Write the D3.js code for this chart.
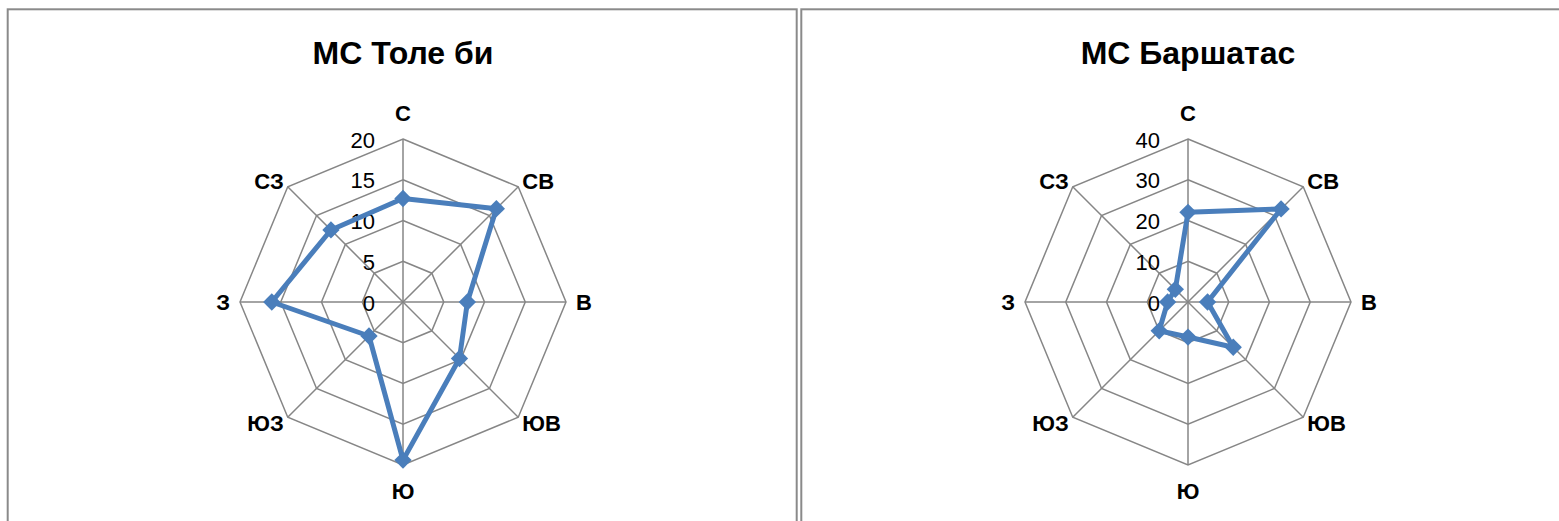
<!DOCTYPE html>
<html lang="ru">
<head>
  <meta charset="UTF-8">
  <title>Роза ветров</title>
  <script src="https://d3js.org/d3.v7.min.js"></script>
  <style>
    body { margin: 0; padding: 0; background: #fff; }
    svg { display: block; font-family: "Liberation Sans", Arial, sans-serif; }
    .title { font-weight: bold; font-size: 32px; }
    .cat { font-weight: bold; font-size: 22px; }
    .tick { font-size: 22px; }
  </style>
</head>
<body>
  <div id="chart"></div>

  <script>
    // wind directions and values per station
    const directions = ["С", "СВ", "В", "ЮВ", "Ю", "ЮЗ", "З", "СЗ"];
    const toleBi = [12.7, 16.2, 7.9, 9.8, 19.4, 5.9, 16.1, 12.5];
    const barshatas = [22.0, 32.3, 4.8, 15.7, 8.6, 10.0, 5.0, 4.4];
    const toleBiTicks = [0, 5, 10, 15, 20];
    const barshatasTicks = [0, 10, 20, 30, 40];

    const width = 1559;
    const height = 521;
    const radius = 163;
    const color = "#4A7EBB";
    const gridColor = "#868686";

    const svg = d3.select("#chart")
      .append("svg")
      .attr("width", width)
      .attr("height", height);

    svg.append("rect")
      .attr("width", width)
      .attr("height", height)
      .attr("fill", "#fff");

    // panel borders (bottom and far right run off the picture)
    const panels = [
      { x0: 7.7, x1: 796.7 },
      { x0: 801.3, x1: 1575 }
    ];
    panels.forEach(p => {
      svg.append("rect")
        .attr("x", p.x0)
        .attr("y", 9.3)
        .attr("width", p.x1 - p.x0)
        .attr("height", height + 20)
        .attr("fill", "none")
        .attr("stroke", "#8a8a8a")
        .attr("stroke-width", 2);
    });

    function drawRadar(cx, cy, title, values, ticks) {
      const g = svg.append("g").attr("transform", `translate(${cx},${cy})`);
      const angle = i => i * 2 * Math.PI / directions.length;

      const r = d3.scaleLinear()
        .domain([0, d3.max(ticks)])
        .range([0, radius]);

      // title
      svg.append("text")
        .attr("class", "title")
        .attr("x", cx)
        .attr("y", 64)
        .attr("text-anchor", "middle")
        .text(title);

      // rings
      const ring = d3.lineRadial()
        .angle((d, i) => angle(i))
        .radius(d => d)
        .curve(d3.curveLinearClosed);

      ticks.slice(1).forEach(t => {
        g.append("path")
          .attr("d", ring(directions.map(() => r(t))))
          .attr("fill", "none")
          .attr("stroke", gridColor)
          .attr("stroke-width", 1.5);
      });

      // spokes
      directions.forEach((d, i) => {
        const a = angle(i);
        g.append("line")
          .attr("x1", 0).attr("y1", 0)
          .attr("x2", Math.sin(a) * radius)
          .attr("y2", -Math.cos(a) * radius)
          .attr("stroke", gridColor)
          .attr("stroke-width", 1.5);
      });

      // tick labels
      g.selectAll(".tick")
        .data(ticks)
        .enter()
        .append("text")
        .attr("class", "tick")
        .attr("x", -28)
        .attr("y", d => -r(d) + 1)
        .attr("text-anchor", "end")
        .attr("dominant-baseline", "central")
        .text(d => d);

      // category labels
      directions.forEach((d, i) => {
        const a = angle(i);
        const s = Math.sin(a), c = Math.cos(a);
        let x, y, anchor;
        if (Math.abs(s) < 0.01) {
          x = 0; y = -c * (radius + 26); anchor = "middle";
        } else if (Math.abs(c) < 0.01) {
          x = s * (radius + 10); y = 0; anchor = s > 0 ? "start" : "end";
        } else {
          x = s * radius + (s > 0 ? 4 : -4);
          y = -c * radius + (c > 0 ? -5 : 6);
          anchor = s > 0 ? "start" : "end";
        }
        g.append("text")
          .attr("class", "cat")
          .attr("x", x)
          .attr("y", y)
          .attr("text-anchor", anchor)
          .attr("dominant-baseline", "central")
          .text(d);
      });

      // series
      const line = d3.lineRadial()
        .angle((d, i) => angle(i))
        .radius(d => r(d))
        .curve(d3.curveLinearClosed);

      g.append("path")
        .attr("d", line(values))
        .attr("fill", "none")
        .attr("stroke", color)
        .attr("stroke-width", 5)
        .attr("stroke-linejoin", "round");

      const diamond = d3.symbol().type(d3.symbolSquare).size(150);
      g.selectAll(".marker")
        .data(values)
        .enter()
        .append("path")
        .attr("class", "marker")
        .attr("d", diamond)
        .attr("fill", color)
        .attr("transform", (d, i) => {
          const a = angle(i);
          return `translate(${Math.sin(a) * r(d)},${-Math.cos(a) * r(d)}) rotate(45)`;
        });
    }

    drawRadar(403, 302, "МС Толе би", toleBi, toleBiTicks);
    drawRadar(1188, 302, "МС Баршатас", barshatas, barshatasTicks);
  </script>
</body>
</html>
